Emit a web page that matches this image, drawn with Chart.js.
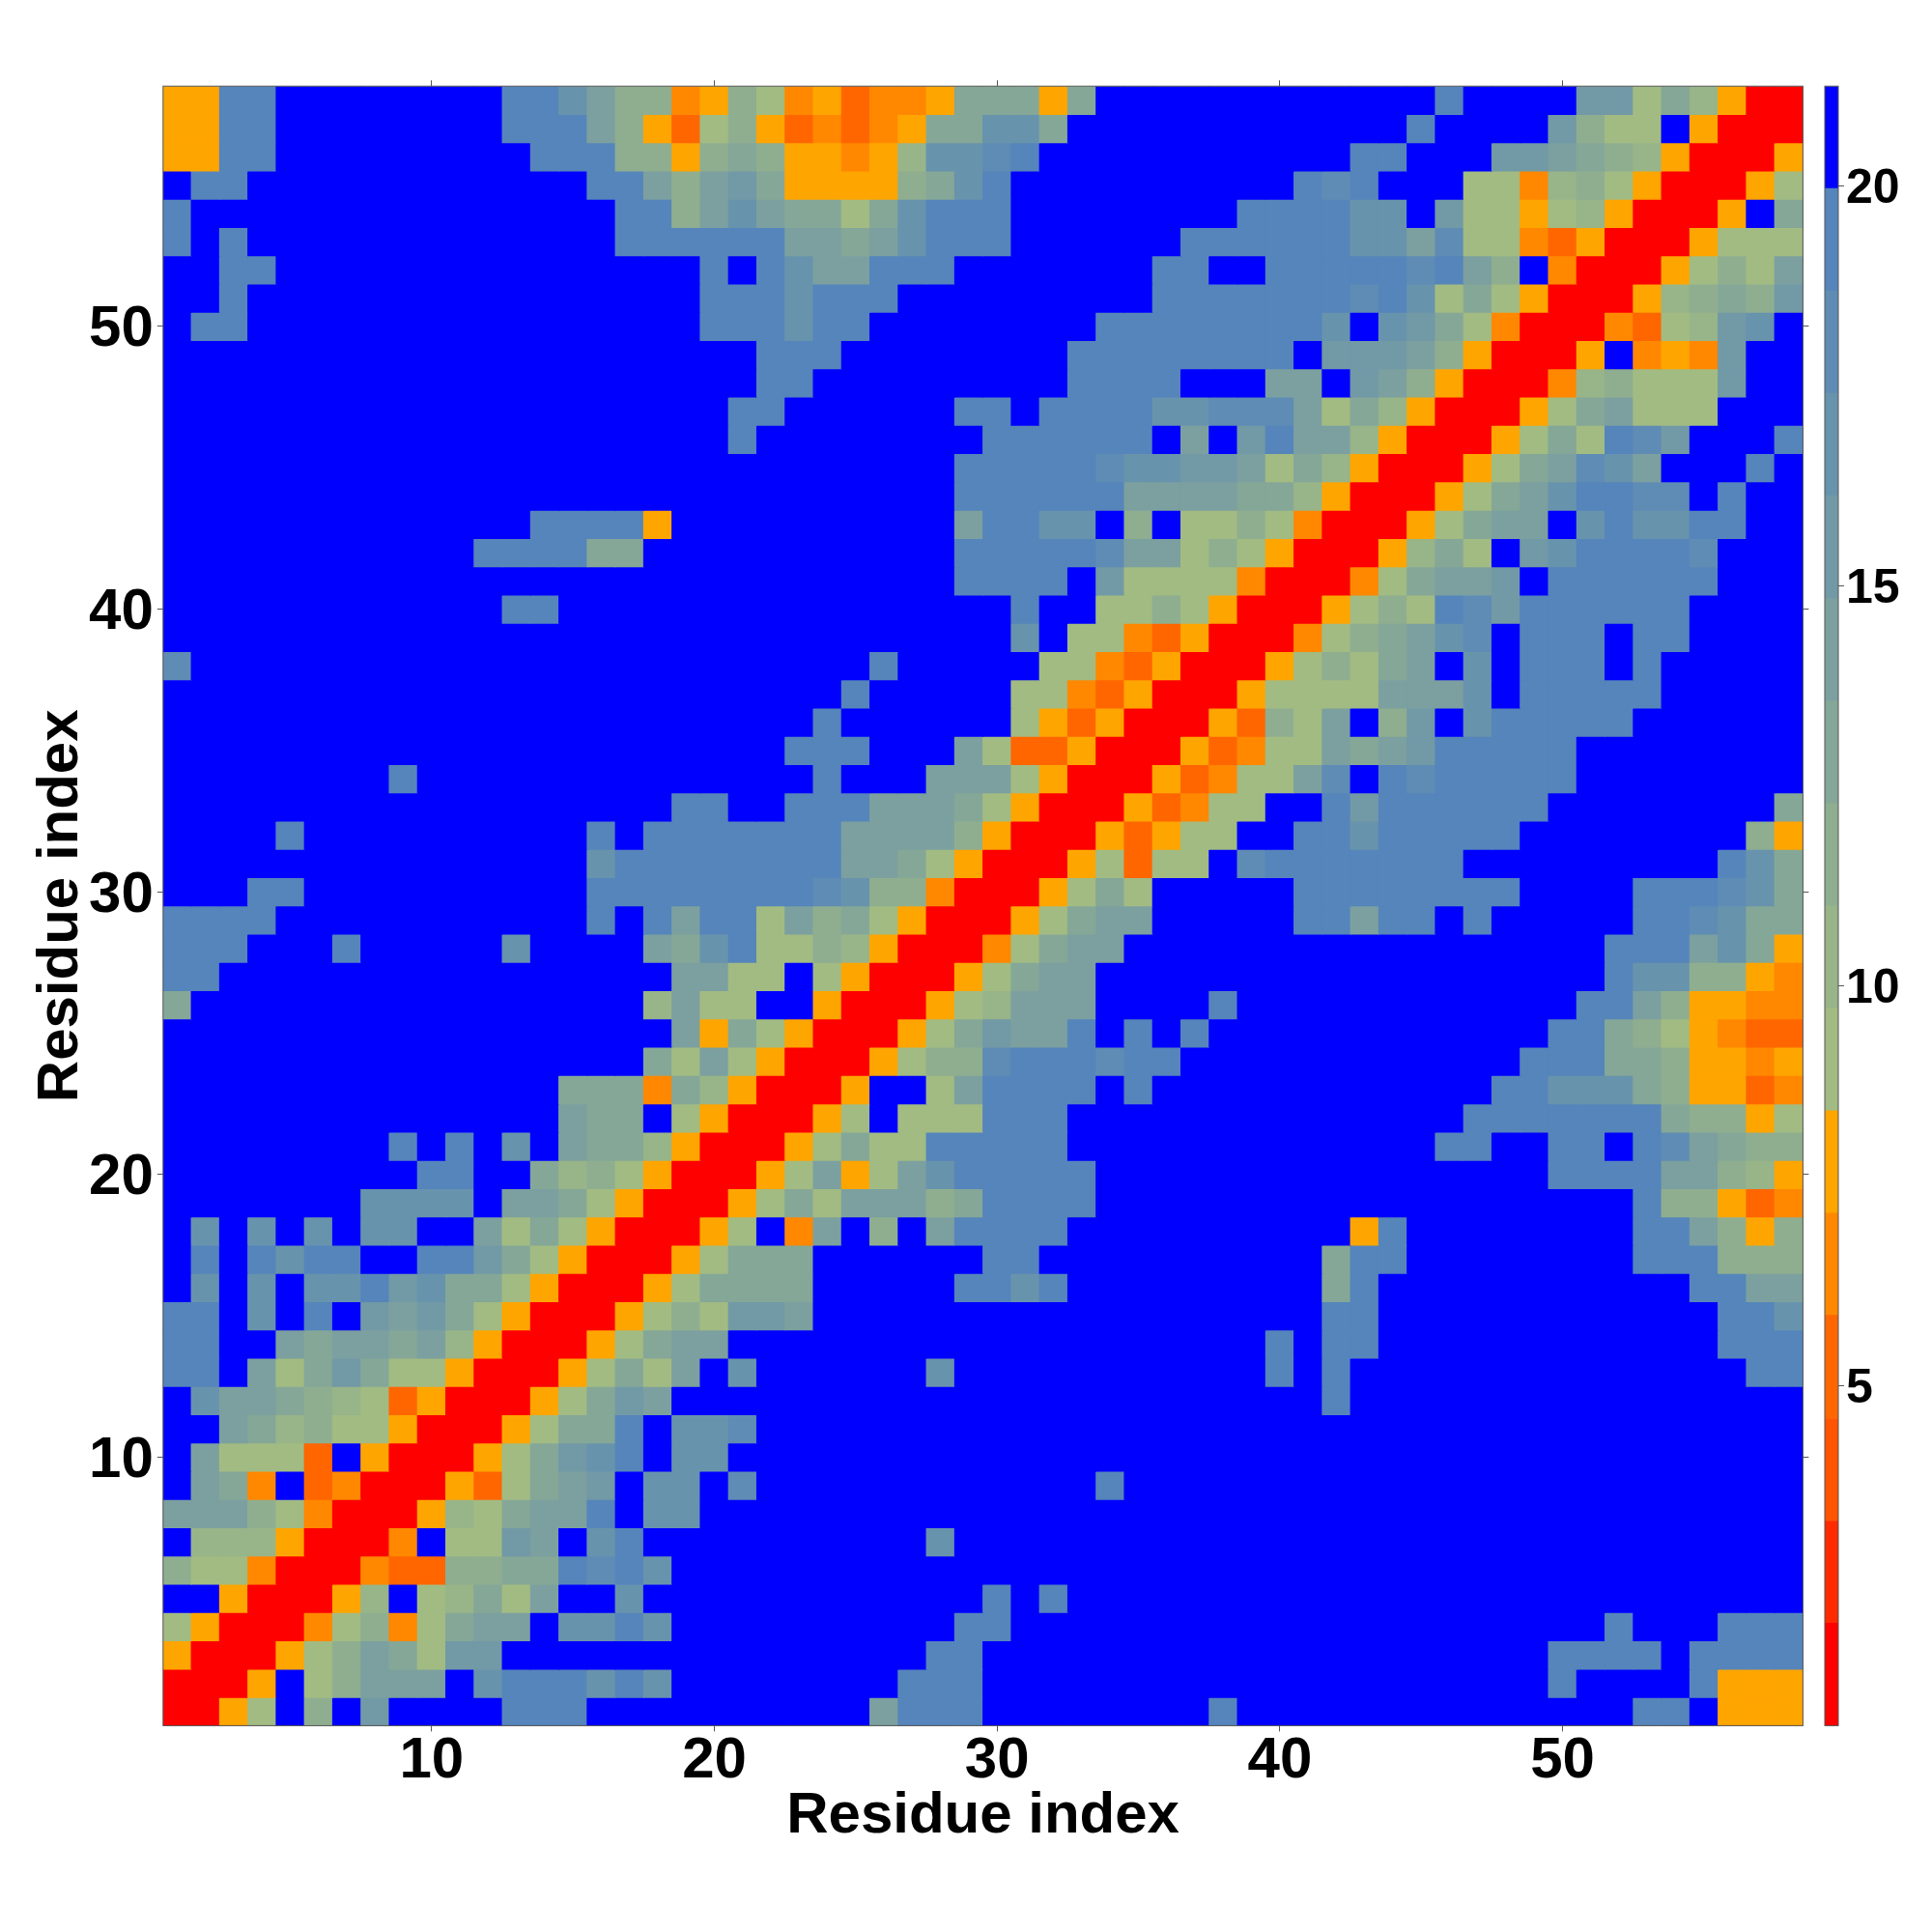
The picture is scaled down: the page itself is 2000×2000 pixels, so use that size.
<!DOCTYPE html>
<html>
<head>
<meta charset="utf-8">
<title>Residue contact map</title>
<script src="https://cdn.jsdelivr.net/npm/chart.js@4"></script>
<style>
  html, body { margin: 0; padding: 0; background: #fff; }
  #wrap { position: relative; width: 2000px; height: 2000px; }
  canvas { position: absolute; top: 0; }
  #map { left: 0; }
  #bar { left: 1870px; }
</style>
</head>
<body>
<div id="wrap">
  <canvas id="map" width="2000" height="2000"></canvas>
  <canvas id="bar" width="130" height="2000"></canvas>
</div>
<script>
const residues = [1,2,3,4,5,6,7,8,9,10,11,12,13,14,15,16,17,18,19,20,21,22,23,24,25,26,27,28,29,30,31,32,33,34,35,36,37,38,39,40,41,42,43,44,45,46,47,48,49,50,51,52,53,54,55,56,57,58];
const axisTitle = 'Residue index';

// colour band of every cell, band 1 = red ... band 16 = blue. first line is residue 58 (top of the map)
const bandRows = [
[6,6,15,15,16,16,16,16,16,16,16,16,15,15,13,11,9,9,5,6,9,7,5,6,4,5,5,6,10,10,10,6,10,16,16,16,16,16,16,16,16,16,16,16,16,15,16,16,16,16,12,12,7,10,8,6,1,1],
[6,6,15,15,16,16,16,16,16,16,16,16,15,15,15,11,9,6,4,7,9,6,4,5,4,5,6,10,10,13,13,10,16,16,16,16,16,16,16,16,16,16,16,16,15,16,16,16,16,12,9,7,7,16,6,1,1,1],
[6,6,15,15,16,16,16,16,16,16,16,16,16,15,15,15,9,9,6,9,10,9,6,6,5,6,8,13,13,14,15,16,16,16,16,16,16,16,16,16,16,16,15,15,16,16,16,12,12,11,10,9,8,6,1,1,1,6],
[16,15,15,16,16,16,16,16,16,16,16,16,16,16,16,15,15,11,9,11,12,10,6,6,6,6,9,10,13,15,16,16,16,16,16,16,16,16,16,16,15,14,15,16,16,16,7,7,5,8,9,7,6,1,1,1,6,7],
[15,16,16,16,16,16,16,16,16,16,16,16,16,16,16,16,15,15,9,11,13,11,10,10,7,10,13,15,15,15,16,16,16,16,16,16,16,16,15,15,15,15,13,13,16,12,7,7,6,7,8,6,1,1,1,6,16,10],
[15,16,15,16,16,16,16,16,16,16,16,16,16,16,16,16,15,15,15,15,15,15,11,11,10,11,13,15,15,15,16,16,16,16,16,16,15,15,15,15,15,15,13,13,11,14,7,7,5,4,6,1,1,1,6,7,7,7],
[16,16,15,15,16,16,16,16,16,16,16,16,16,16,16,16,16,16,16,15,16,15,13,11,11,15,15,15,16,16,16,16,16,16,16,15,15,16,16,15,15,15,15,15,14,15,11,9,16,5,1,1,1,6,7,9,7,11],
[16,16,15,16,16,16,16,16,16,16,16,16,16,16,16,16,16,16,16,15,15,15,13,15,15,15,16,16,16,16,16,16,16,16,16,15,15,15,15,15,15,15,14,15,13,7,10,7,6,1,1,1,6,8,9,10,9,12],
[16,15,15,16,16,16,16,16,16,16,16,16,16,16,16,16,16,16,16,15,15,15,13,15,15,16,16,16,16,16,16,16,16,15,15,15,15,15,15,15,15,13,16,13,12,10,7,5,1,1,1,5,4,7,8,12,13,16],
[16,16,16,16,16,16,16,16,16,16,16,16,16,16,16,16,16,16,16,16,16,15,15,15,16,16,16,16,16,16,16,16,15,15,15,15,15,15,15,15,16,12,12,12,11,9,6,1,1,1,6,16,5,6,5,12,16,16],
[16,16,16,16,16,16,16,16,16,16,16,16,16,16,16,16,16,16,16,16,16,15,15,16,16,16,16,16,16,16,16,16,15,15,15,15,16,16,16,11,11,16,12,11,9,6,1,1,1,5,8,9,7,7,7,12,16,16],
[16,16,16,16,16,16,16,16,16,16,16,16,16,16,16,16,16,16,16,16,15,15,16,16,16,16,16,16,15,15,16,15,15,15,15,13,13,14,14,14,11,7,10,8,6,1,1,1,6,7,10,11,7,7,7,16,16,16],
[16,16,16,16,16,16,16,16,16,16,16,16,16,16,16,16,16,16,16,16,15,16,16,16,16,16,16,16,16,15,15,15,15,15,15,16,11,16,12,15,11,11,8,6,1,1,1,6,7,10,7,15,14,12,16,16,16,15],
[16,16,16,16,16,16,16,16,16,16,16,16,16,16,16,16,16,16,16,16,16,16,16,16,16,16,16,16,15,15,15,15,15,14,13,13,12,12,11,7,10,8,6,1,1,1,6,7,10,11,14,13,11,16,16,16,15,16],
[16,16,16,16,16,16,16,16,16,16,16,16,16,16,16,16,16,16,16,16,16,16,16,16,16,16,16,16,15,15,15,15,15,15,11,11,11,11,10,10,8,6,1,1,1,6,7,10,11,13,15,15,14,14,16,15,16,16],
[16,16,16,16,16,16,16,16,16,16,16,16,16,15,15,15,15,6,16,16,16,16,16,16,16,16,16,16,11,15,15,13,13,16,9,16,7,7,9,7,5,1,1,1,6,7,10,11,11,16,13,15,13,13,15,15,16,16],
[16,16,16,16,16,16,16,16,16,16,16,15,15,15,15,10,10,16,16,16,16,16,16,16,16,16,16,16,15,15,15,15,15,14,11,11,7,9,7,6,1,1,1,6,8,10,7,16,12,13,15,15,15,15,14,16,16,16],
[16,16,16,16,16,16,16,16,16,16,16,16,16,16,16,16,16,16,16,16,16,16,16,16,16,16,16,16,15,15,15,15,16,12,7,7,7,7,5,1,1,1,5,7,10,11,11,12,16,15,15,15,15,15,15,16,16,16],
[16,16,16,16,16,16,16,16,16,16,16,16,15,15,16,16,16,16,16,16,16,16,16,16,16,16,16,16,16,16,15,16,16,7,7,9,7,6,1,1,1,6,7,9,7,15,14,12,15,15,15,15,15,15,16,16,16,16],
[16,16,16,16,16,16,16,16,16,16,16,16,16,16,16,16,16,16,16,16,16,16,16,16,16,16,16,16,16,16,13,16,7,7,5,4,6,1,1,1,5,7,9,10,11,13,14,16,15,15,15,16,15,15,16,16,16,16],
[14,16,16,16,16,16,16,16,16,16,16,16,16,16,16,16,16,16,16,16,16,16,16,16,16,15,16,16,16,16,16,7,7,5,4,6,1,1,1,6,7,9,7,10,11,16,13,16,15,15,15,16,15,16,16,16,16,16],
[16,16,16,16,16,16,16,16,16,16,16,16,16,16,16,16,16,16,16,16,16,16,16,16,15,16,16,16,16,16,7,7,5,4,6,1,1,1,6,7,7,7,7,11,11,11,13,16,15,15,15,15,15,16,16,16,16,16],
[16,16,16,16,16,16,16,16,16,16,16,16,16,16,16,16,16,16,16,16,16,16,16,15,16,16,16,16,16,16,7,6,4,6,1,1,1,6,4,9,7,11,16,9,12,16,13,15,15,15,15,15,16,16,16,16,16,16],
[16,16,16,16,16,16,16,16,16,16,16,16,16,16,16,16,16,16,16,16,16,16,15,15,15,16,16,16,11,7,4,4,6,1,1,1,6,4,5,7,7,11,10,11,12,15,15,15,15,15,16,16,16,16,16,16,16,16],
[16,16,16,16,16,16,16,16,15,16,16,16,16,16,16,16,16,16,16,16,16,16,16,15,16,16,16,11,11,11,7,6,1,1,1,6,4,5,7,7,11,14,16,15,14,15,15,15,15,15,16,16,16,16,16,16,16,16],
[16,16,16,16,16,16,16,16,16,16,16,16,16,16,16,16,16,16,15,15,16,16,15,15,15,11,11,11,10,7,6,1,1,1,6,4,5,7,7,16,16,15,12,15,15,15,15,15,15,16,16,16,16,16,16,16,16,10],
[16,16,16,16,15,16,16,16,16,16,16,16,16,16,16,15,16,15,15,15,15,15,15,15,11,11,11,11,9,6,1,1,1,6,4,6,7,7,16,16,15,15,13,15,15,15,15,15,16,16,16,16,16,16,16,16,9,6],
[16,16,16,16,16,16,16,16,16,16,16,16,16,16,16,13,15,15,15,15,15,15,15,15,11,11,10,7,6,1,1,1,6,7,4,7,7,16,14,15,15,15,15,15,15,15,16,16,16,16,16,16,16,16,16,15,13,10],
[16,16,16,15,15,16,16,16,16,16,16,16,16,16,16,15,15,15,15,15,15,15,15,14,13,9,9,5,1,1,1,6,7,10,7,16,16,16,16,16,15,15,15,15,15,15,15,15,16,16,16,16,15,15,15,14,13,10],
[15,15,15,15,16,16,16,16,16,16,16,16,16,16,16,15,16,15,11,15,15,7,11,9,10,7,6,1,1,1,6,7,10,11,11,16,16,16,16,16,15,15,11,15,15,16,15,16,16,16,16,16,15,15,14,13,10,10],
[15,15,15,16,16,16,15,16,16,16,16,16,13,16,16,16,16,11,10,13,15,7,7,9,8,6,1,1,1,5,7,10,11,11,16,16,16,16,16,16,16,16,16,16,16,16,16,16,16,16,16,15,15,15,11,13,10,6],
[15,15,16,16,16,16,16,16,16,16,16,16,16,16,16,16,16,16,11,11,7,7,16,7,6,1,1,1,6,7,10,11,11,16,16,16,16,16,16,16,16,16,16,16,16,16,16,16,16,16,16,15,13,13,9,9,6,5],
[10,16,16,16,16,16,16,16,16,16,16,16,16,16,16,16,16,8,11,7,7,16,16,6,1,1,1,6,7,8,11,11,11,16,16,16,16,15,16,16,16,16,16,16,16,16,16,16,16,16,15,15,11,9,6,6,5,5],
[16,16,16,16,16,16,16,16,16,16,16,16,16,16,16,16,16,16,11,6,10,7,6,1,1,1,6,7,10,12,11,11,15,16,15,16,15,16,16,16,16,16,16,16,16,16,16,16,16,15,15,10,9,7,6,5,4,4],
[16,16,16,16,16,16,16,16,16,16,16,16,16,16,16,16,16,10,7,11,7,6,1,1,1,6,7,9,9,14,15,15,15,14,15,15,16,16,16,16,16,16,16,16,16,16,16,16,15,15,15,10,10,9,6,6,5,6],
[16,16,16,16,16,16,16,16,16,16,16,16,16,16,10,10,10,5,10,8,6,1,1,1,6,16,16,7,11,15,15,15,15,16,15,16,16,16,16,16,16,16,16,16,16,16,16,15,15,13,13,13,10,9,6,6,4,5],
[16,16,16,16,16,16,16,16,16,16,16,16,16,16,11,10,10,16,7,6,1,1,1,6,7,16,7,7,7,15,15,15,16,16,16,16,16,16,16,16,16,16,16,16,16,16,15,15,15,15,15,15,15,10,9,9,6,7],
[16,16,16,16,16,16,16,16,15,16,15,16,13,16,11,10,10,8,6,1,1,1,6,7,10,7,7,15,15,15,15,15,16,16,16,16,16,16,16,16,16,16,16,16,16,15,15,16,16,15,15,16,15,14,11,10,9,9],
[16,16,16,16,16,16,16,16,16,15,15,16,16,10,8,9,7,6,1,1,1,6,7,11,6,7,11,13,15,15,15,15,15,16,16,16,16,16,16,16,16,16,16,16,16,16,16,16,16,15,15,15,15,11,11,9,8,6],
[16,16,16,16,16,16,16,13,13,13,13,16,11,11,10,7,6,1,1,1,6,7,10,7,11,11,11,9,10,15,15,15,15,16,16,16,16,16,16,16,16,16,16,16,16,16,16,16,16,16,16,16,15,9,9,6,4,5],
[16,13,16,13,16,13,16,13,13,16,16,11,7,10,7,6,1,1,1,6,7,16,5,11,16,9,16,11,15,15,15,15,16,16,16,16,16,16,16,16,16,16,6,15,16,16,16,16,16,16,16,16,15,15,11,9,6,9],
[16,15,16,15,13,15,15,16,16,15,15,12,10,7,6,1,1,1,6,7,10,10,10,16,16,16,16,16,16,15,15,16,16,16,16,16,16,16,16,16,16,10,15,15,16,16,16,16,16,16,16,16,15,15,15,9,9,9],
[16,13,16,13,16,13,13,15,12,13,10,10,7,6,1,1,1,6,7,10,10,10,10,16,16,16,16,16,15,15,13,15,16,16,16,16,16,16,16,16,16,10,15,16,16,16,16,16,16,16,16,16,16,16,15,15,11,11],
[15,15,16,13,16,15,16,12,11,12,10,7,6,1,1,1,6,7,9,7,12,12,11,16,16,16,16,16,16,16,16,16,16,16,16,16,16,16,16,16,16,15,15,16,16,16,16,16,16,16,16,16,16,16,16,15,15,13],
[15,15,16,16,11,10,11,11,10,11,8,6,1,1,1,6,7,10,11,11,16,16,16,16,16,16,16,16,16,16,16,16,16,16,16,16,16,16,16,15,16,15,15,16,16,16,16,16,16,16,16,16,16,16,16,15,15,15],
[15,15,16,11,7,10,12,10,7,7,6,1,1,1,6,7,10,7,11,16,13,16,16,16,16,16,16,13,16,16,16,16,16,16,16,16,16,16,16,15,16,15,16,16,16,16,16,16,16,16,16,16,16,16,16,16,15,15],
[16,13,11,11,10,9,8,7,4,6,1,1,1,6,7,10,12,11,16,16,16,16,16,16,16,16,16,16,16,16,16,16,16,16,16,16,16,16,16,16,16,15,16,16,16,16,16,16,16,16,16,16,16,16,16,16,16,16],
[16,16,11,10,8,9,7,7,6,1,1,1,6,7,10,10,15,16,13,13,14,16,16,16,16,16,16,16,16,16,16,16,16,16,16,16,16,16,16,16,16,16,16,16,16,16,16,16,16,16,16,16,16,16,16,16,16,16],
[16,11,7,7,7,4,16,6,1,1,1,6,7,10,12,13,15,16,13,13,16,16,16,16,16,16,16,16,16,16,16,16,16,16,16,16,16,16,16,16,16,16,16,16,16,16,16,16,16,16,16,16,16,16,16,16,16,16],
[16,11,10,5,16,4,5,1,1,1,6,4,7,10,11,12,16,13,13,16,14,16,16,16,16,16,16,16,16,16,16,16,16,15,16,16,16,16,16,16,16,16,16,16,16,16,16,16,16,16,16,16,16,16,16,16,16,16],
[11,11,11,9,7,5,1,1,1,6,8,7,10,11,11,15,16,13,13,16,16,16,16,16,16,16,16,16,16,16,16,16,16,16,16,16,16,16,16,16,16,16,16,16,16,16,16,16,16,16,16,16,16,16,16,16,16,16],
[16,8,8,8,6,1,1,1,5,16,7,7,12,11,16,13,15,16,16,16,16,16,16,16,16,16,16,13,16,16,16,16,16,16,16,16,16,16,16,16,16,16,16,16,16,16,16,16,16,16,16,16,16,16,16,16,16,16],
[9,7,7,5,1,1,1,5,4,4,9,9,10,10,15,14,15,13,16,16,16,16,16,16,16,16,16,16,16,16,16,16,16,16,16,16,16,16,16,16,16,16,16,16,16,16,16,16,16,16,16,16,16,16,16,16,16,16],
[16,16,6,1,1,1,6,8,16,7,8,10,7,11,16,16,13,16,16,16,16,16,16,16,16,16,16,16,16,15,16,15,16,16,16,16,16,16,16,16,16,16,16,16,16,16,16,16,16,16,16,16,16,16,16,16,16,16],
[7,6,1,1,1,5,7,9,5,7,10,11,11,16,13,13,15,13,16,16,16,16,16,16,16,16,16,16,15,15,16,16,16,16,16,16,16,16,16,16,16,16,16,16,16,16,16,16,16,16,16,15,16,16,16,15,15,15],
[6,1,1,1,6,7,9,11,10,7,12,12,16,16,16,16,16,16,16,16,16,16,16,16,16,16,16,15,15,16,16,16,16,16,16,16,16,16,16,16,16,16,16,16,16,16,16,16,16,15,15,15,15,16,15,15,15,15],
[1,1,1,6,16,7,9,11,11,11,16,13,15,15,15,13,15,13,16,16,16,16,16,16,16,16,15,15,15,16,16,16,16,16,16,16,16,16,16,16,16,16,16,16,16,16,16,16,16,15,16,16,16,16,15,6,6,6],
[1,1,6,7,16,9,16,12,16,16,16,16,15,15,15,16,16,16,16,16,16,16,16,16,16,11,15,15,15,16,16,16,16,16,16,16,16,15,16,16,16,16,16,16,16,16,16,16,16,16,16,16,15,15,16,6,6,6]
];

const bandColors = ['#ff0000','#ff2a00','#ff5500','#ff6600','#ff8800','#ffa500','#a2bb82','#98b489','#8fae90','#85a797','#7ca09f','#7299a6','#6893ad','#5f8cb4','#5585bb','#0000ff'];
const bandEdges = [0.75,2.03,3.31,4.59,5.88,7.16,8.44,9.72,11,12.28,13.56,14.84,16.13,17.41,18.69,19.97,21.25];

const frame = {
  id: 'frame',
  afterDraw(chart) {
    const { ctx, chartArea: a } = chart;
    ctx.save();
    ctx.strokeStyle = '#555';
    ctx.lineWidth = 1;
    ctx.strokeRect(a.left, a.top, a.right - a.left, a.bottom - a.top);
    ctx.restore();
  }
};

const boldFont = size => ({ family: '"Liberation Sans", Arial, sans-serif', weight: 'bold', size: size });

function sideAxis(position, size, withLabels, title) {
  const vertical = position === 'left' || position === 'right';
  const axis = {
    type: 'linear',
    position: position,
    min: 0.5,
    max: 58.5,
    offset: false,
    border: { display: false },
    grid: { offset: false, drawOnChartArea: false, drawTicks: true, tickLength: 6, tickColor: '#555', tickWidth: 1 },
    ticks: { stepSize: 10, includeBounds: false, display: withLabels, color: '#000', font: boldFont(60), padding: vertical ? 4 : -5, labelOffset: vertical ? 4 : 0, maxRotation: 0, autoSkip: false },
    afterFit(scale) {
      if (vertical) scale.width = size;
      else scale.height = size;
    }
  };
  if (title) axis.title = title;
  return axis;
}

// one dataset per row of the map, each cell a floating bar one residue tall
const mapDatasets = bandRows.map((row, i) => {
  const residue = residues[residues.length - 1 - i];
  return {
    data: row.map(() => [residue - 0.5, residue + 0.5]),
    backgroundColor: row.map(band => bandColors[band - 1]),
    borderWidth: 0,
    inflateAmount: 0.5,
    barPercentage: 1,
    categoryPercentage: 1,
    grouped: false,
    xAxisID: 'x',
    yAxisID: 'y'
  };
});

new Chart(document.getElementById('map').getContext('2d'), {
  type: 'bar',
  data: { labels: residues, datasets: mapDatasets },
  plugins: [frame],
  options: {
    responsive: false,
    animation: false,
    devicePixelRatio: 1,
    layout: { padding: 0 },
    plugins: { legend: { display: false }, tooltip: { enabled: false } },
    scales: {
      x: { type: 'category', offset: true, display: false },
      y: sideAxis('left', 168.8, true, { display: true, text: axisTitle, color: '#000', font: boldFont(60), padding: { top: 27, bottom: 0 } }),
      xBottom: sideAxis('bottom', 213.6, true, { display: true, text: axisTitle, color: '#000', font: boldFont(60), padding: { top: 0, bottom: 84 } }),
      xTop: sideAxis('top', 89.2, false),
      yRight: sideAxis('right', 133.6, false)
    }
  }
});

new Chart(document.getElementById('bar').getContext('2d'), {
  type: 'bar',
  data: {
    labels: ['d'],
    datasets: bandColors.map((colour, i) => ({
      data: [[bandEdges[i], bandEdges[i + 1]]],
      backgroundColor: colour,
      borderWidth: 0,
      barPercentage: 1,
      categoryPercentage: 1,
      grouped: false
    }))
  },
  plugins: [frame],
  options: {
    responsive: false,
    animation: false,
    devicePixelRatio: 1,
    layout: { padding: { left: 19, top: 89.2, bottom: 213.6, right: 0 } },
    plugins: { legend: { display: false }, tooltip: { enabled: false } },
    scales: {
      x: { type: 'category', offset: true, display: false },
      y: {
        type: 'linear',
        position: 'right',
        min: 0.75,
        max: 21.25,
        border: { display: false },
        grid: { drawOnChartArea: false, tickLength: 6, tickColor: '#555' },
        ticks: { stepSize: 5, includeBounds: false, color: '#000', font: boldFont(50), padding: 2, labelOffset: 4 },
        afterFit(scale) { scale.width = 97; }
      }
    }
  }
});
</script>
</body>
</html>
